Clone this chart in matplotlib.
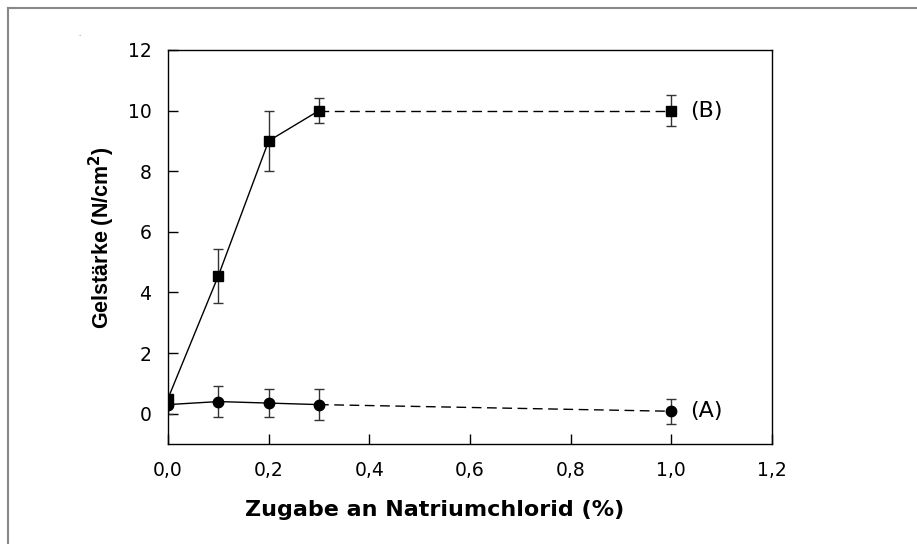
import matplotlib
matplotlib.use("Agg")
import matplotlib.pyplot as plt
from matplotlib.lines import Line2D

plt.rcParams['font.family'] = ['DejaVu Sans']

x_vals = [0.0, 0.1, 0.2, 0.3, 1.0]
b_vals = [0.5, 4.55, 9.0, 10.0, 10.0]
b_err = [0.12, 0.9, 1.0, 0.4, 0.5]
a_vals = [0.3, 0.4, 0.35, 0.3, 0.08]
a_err = [0.3, 0.5, 0.45, 0.5, 0.42]
xticks = [0.0, 0.2, 0.4, 0.6, 0.8, 1.0, 1.2]
xtick_labels = ['0,0', '0,2', '0,4', '0,6', '0,8', '1,0', '1,2']
yticks = [0, 2, 4, 6, 8, 10, 12]

fig = plt.figure(figsize=(9.17, 5.44), dpi=100)
ax = fig.add_axes([168/917, 1-444/544, (772-168)/917, (444-50)/544])

for vals, err, mk, ms, lab in [(b_vals, b_err, 's', 7, '(B)'), (a_vals, a_err, 'o', 7.5, '(A)')]:
    ax.errorbar(x_vals, vals, yerr=err, fmt='none', ecolor='#333333', elinewidth=1,
                capsize=3.5, capthick=1, zorder=2)
    ax.plot(x_vals[:4], vals[:4], color='black', lw=1, zorder=3)
    ax.plot([x_vals[3], x_vals[4]], [vals[3], vals[4]], color='black', lw=1,
            dashes=(7, 4), dash_capstyle='butt', zorder=3)
    ax.plot(x_vals, vals, linestyle='none', marker=mk, ms=ms, color='black', zorder=4)
    ax.text(x_vals[4] + 0.038, vals[4], lab, fontsize=16, va='center', ha='left')

ax.set_xlim(0, 1.2)
ax.set_ylim(-1, 12)
ax.set_xticks(xticks)
ax.set_xticklabels(xtick_labels)
ax.set_yticks(yticks)
ax.tick_params(direction='in', length=7, width=1, labelsize=13.5, pad=12)
for s in ax.spines.values():
    s.set_linewidth(1)
ax.set_xlabel('Zugabe an Natriumchlorid (%)', fontsize=16, fontweight='bold')
ax.xaxis.set_label_coords((435-168)/604, -(500-444)/394)
ax.set_ylabel('Gelstärke (N/cm$^\\mathbf{2}$)', fontsize=15.5, fontweight='bold',
              family=['Liberation Sans', 'DejaVu Sans'])
ax.yaxis.set_label_coords(-(168-117)/604, (444-238)/394)

fig.add_artist(Line2D([7.5/917, 7.5/917], [0, 1-8/544], transform=fig.transFigure, color='#888888', lw=1.5))
fig.add_artist(Line2D([7.5/917, 1], [1-8/544, 1-8/544], transform=fig.transFigure, color='#888888', lw=1.5))
fig.text(78/917, 1-36/544, '.', fontsize=5, color='#555555')

fig.savefig('out.png', dpi=100)
